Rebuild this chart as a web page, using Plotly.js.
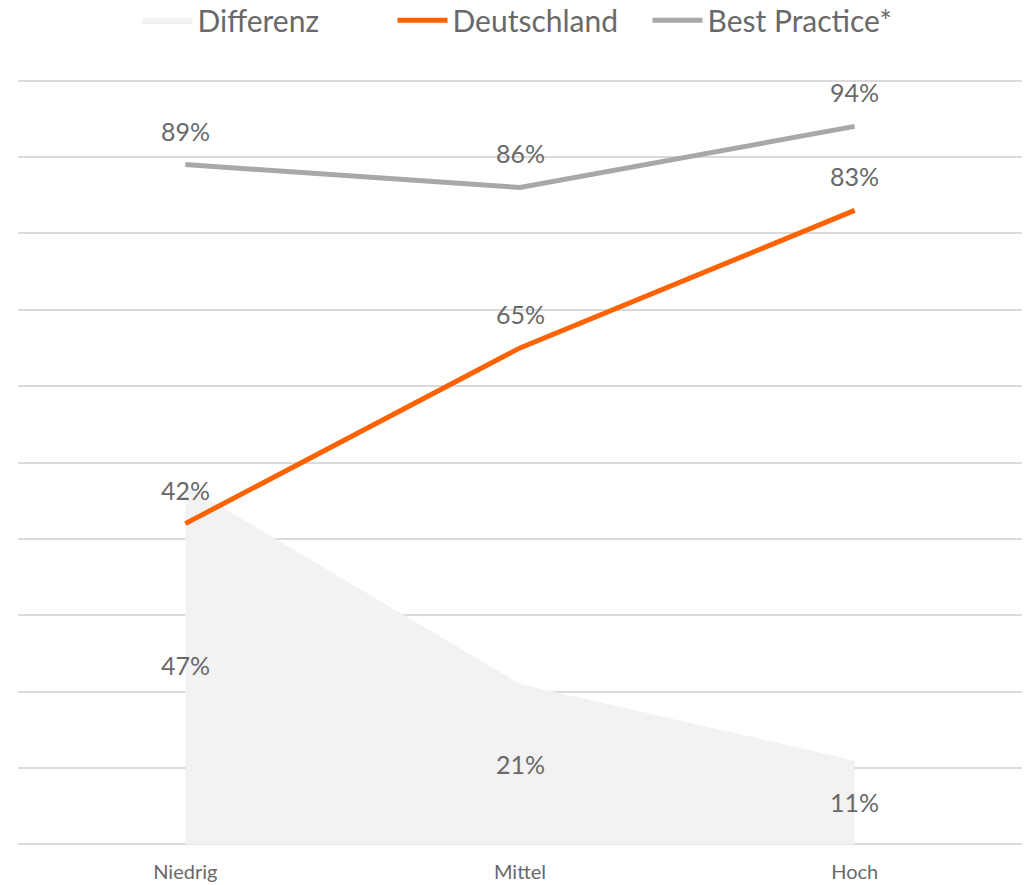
<!DOCTYPE html>
<html>
<head>
<meta charset="utf-8">
<script src="https://cdn.plot.ly/plotly-3.0.1.min.js"></script>
<style>html,body{margin:0;padding:0;background:#fff;}#chart{width:1025px;height:885px;}</style>
</head>
<body>
<div id="chart"></div>
<script>
var categories = ["Niedrig", "Mittel", "Hoch"];
var differenz = [47, 21, 11];
var deutschland = [42, 65, 83];
var bestPractice = [89, 86, 94];

var labelColor = "#696969";
var font = "Lato, 'Open Sans', sans-serif";

var traces = [
  {x: categories, y: differenz, name: "Differenz", type: "scatter", mode: "lines",
   fill: "tozeroy", fillcolor: "#F2F2F2", line: {width: 0, color: "#F2F2F2"}, hoverinfo: "skip"},
  {x: categories, y: deutschland, name: "Deutschland", type: "scatter", mode: "lines",
   line: {color: "#FF6200", width: 5}},
  {x: categories, y: bestPractice, name: "Best Practice*", type: "scatter", mode: "lines",
   line: {color: "#A8A8A8", width: 5}}
];

var annotations = [];
categories.forEach(function(c, i) {
  annotations.push({x: c, y: differenz[i] / 2, text: differenz[i] + "%", showarrow: false,
    font: {size: 25, color: labelColor, family: font}});
  annotations.push({x: c, y: deutschland[i], yshift: 34, text: deutschland[i] + "%", showarrow: false,
    font: {size: 25, color: labelColor, family: font}});
  annotations.push({x: c, y: bestPractice[i], yshift: 34, text: bestPractice[i] + "%", showarrow: false,
    font: {size: 25, color: labelColor, family: font}});
});

var layout = {
  width: 1025, height: 885,
  margin: {l: 18, r: 3, t: 78.5, b: 38.5},
  paper_bgcolor: "#fff", plot_bgcolor: "#fff",
  font: {family: font, color: labelColor},
  showlegend: true,
  legend: {orientation: "h", x: 0.5, xanchor: "center", y: 0.977, yref: "container", yanchor: "middle",
    font: {size: 30, color: labelColor, family: font}, itemwidth: 50, traceorder: "normal",
    entrywidth: 190, entrywidthmode: "pixels"},
  xaxis: {type: "category", range: [-0.5, 2.5], showgrid: false, zeroline: false, showline: false,
    ticks: "", ticklabelstandoff: 12, automargin: false, tickfont: {size: 20, color: labelColor, family: font}, fixedrange: true},
  yaxis: {range: [-0.2, 100.2], tickvals: [0,10,20,30,40,50,60,70,80,90,100], showgrid: true, gridcolor: "#DADADA", gridwidth: 2,
    zeroline: false, showline: false, showticklabels: false, ticks: "", fixedrange: true},
  annotations: annotations
};

Plotly.newPlot("chart", traces, layout, {displayModeBar: false, staticPlot: true});
</script>
</body>
</html>
